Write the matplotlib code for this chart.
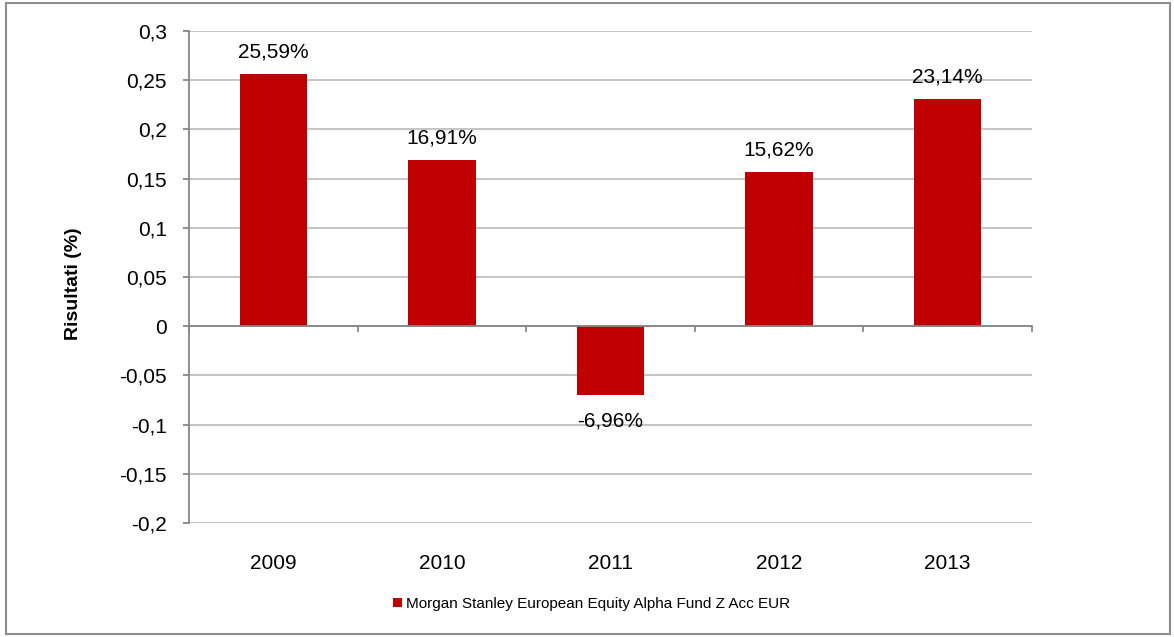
import matplotlib
matplotlib.use("Agg")
import matplotlib.pyplot as plt
from matplotlib.patches import Rectangle
import numpy as np

plt.rcParams['font.family'] = ['Liberation Sans', 'DejaVu Sans']

years = ["2009", "2010", "2011", "2012", "2013"]
values = [0.2559, 0.1691, -0.0696, 0.1562, 0.2314]
labels = ["25,59%", "16,91%", "-6,96%", "15,62%", "23,14%"]
yticks = [-0.2, -0.15, -0.1, -0.05, 0, 0.05, 0.1, 0.15, 0.2, 0.25, 0.3]
ytick_labels = ["-0,2", "-0,15", "-0,1", "-0,05", "0", "0,05", "0,1", "0,15", "0,2", "0,25", "0,3"]
series_name = "Morgan Stanley European Equity Alpha Fund Z Acc EUR"

W, H = 1174, 637
fig = plt.figure(figsize=(W/100, H/100), dpi=100)
fig.patches.append(Rectangle((6/W, 3/H), (W-10)/W, (H-6)/H, transform=fig.transFigure,
                             fill=False, edgecolor="#8c8c8c", linewidth=1.5))

ax = fig.add_axes([189/W, 1-523/H, (1032-189)/W, (523-31)/H])
x = np.arange(len(years))
red = "#c00000"
bars = ax.bar(x, values, width=0.40, color=red, zorder=3, label=series_name)

ax.set_xlim(-0.5, len(years)-0.5)
ax.set_ylim(-0.2, 0.3)
ax.set_yticks(yticks)
ax.set_yticklabels(ytick_labels, fontsize=15)
ax.grid(axis='y', color="#bfbfbf", linewidth=1.3, zorder=0)
ax.set_axisbelow(True)

for s in ['top', 'right', 'bottom']:
    ax.spines[s].set_visible(False)
ax.spines['left'].set_color("#868686")
ax.spines['left'].set_linewidth(1.3)

# zero axis line with category boundary ticks
ax.axhline(0, color="#868686", linewidth=1.3, zorder=4)
for b in np.arange(-0.5, len(years), 1.0):
    ax.plot([b, b], [0, -0.005], color="#868686", linewidth=1.3, zorder=4, clip_on=False)

ax.set_xticks(x)
ax.set_xticklabels(years, fontsize=15)
ax.tick_params(axis='x', length=0, pad=22)
ax.tick_params(axis='y', length=4, width=1.3, color="#868686", pad=12)

for xi, v, lab in zip(x, values, labels):
    if v >= 0:
        ax.annotate(lab, (xi, v), xytext=(0, 9), textcoords='offset points',
                    ha='center', va='bottom', fontsize=15)
    else:
        ax.annotate(lab, (xi, v), xytext=(0, -12), textcoords='offset points',
                    ha='center', va='top', fontsize=15)

ax.set_ylabel("Risultati (%)", fontsize=14, fontweight='bold')
ax.yaxis.set_label_coords(82/W, 1-284/H, transform=fig.transFigure)

fig.legend(handles=[bars], labels=[series_name], loc='center', bbox_to_anchor=(592/W, 1-604/H),
           frameon=False, fontsize=11, handlelength=0.55, handleheight=0.55, handletextpad=0.3)

fig.savefig("out.png", dpi=100)
